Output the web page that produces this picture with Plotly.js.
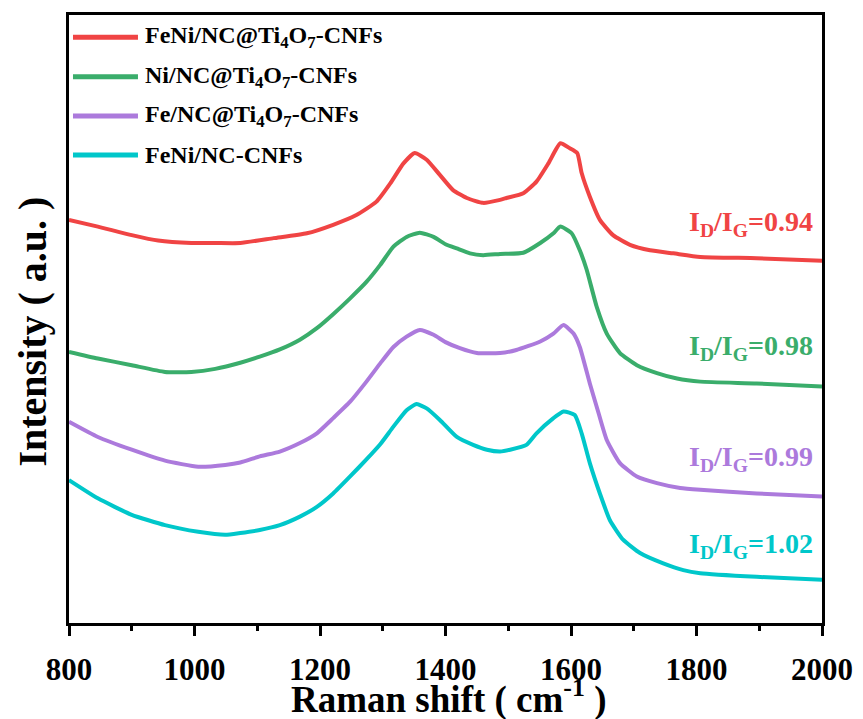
<!DOCTYPE html>
<html>
<head>
<meta charset="utf-8">
<script src="https://cdn.plot.ly/plotly-3.0.1.min.js"></script>
<style>
  html, body { margin: 0; padding: 0; background: #ffffff; }
  #chart { width: 863px; height: 719px; }
</style>
</head>
<body>
<div id="chart"></div>
<script>
// Raman spectra (intensity offset per sample, arbitrary units)
const seriesNames = [
  'FeNi/NC@Ti<sub>4</sub>O<sub>7</sub>-CNFs',
  'Ni/NC@Ti<sub>4</sub>O<sub>7</sub>-CNFs',
  'Fe/NC@Ti<sub>4</sub>O<sub>7</sub>-CNFs',
  'FeNi/NC-CNFs'
];
const seriesColors = ['#F04444', '#3AAD6B', '#AC7ADC', '#00C7CA'];
const ratioValues = ['0.94', '0.98', '0.99', '1.02'];

const shiftFeNiTi = [800, 846, 900, 942, 995, 1033, 1073, 1126, 1179, 1221, 1258, 1290, 1312, 1333, 1351, 1370, 1391, 1412, 1434, 1460, 1487, 1497, 1524, 1545, 1564, 1583, 1598, 1610, 1617, 1630, 1646, 1667, 1694, 1726, 1763, 1806, 1896, 2000];
const intensityFeNiTi = [66.3, 65.2, 63.8, 62.9, 62.5, 62.5, 62.5, 63.3, 64.1, 65.5, 67.1, 69.3, 72.3, 75.6, 77.3, 76.2, 73.7, 71.2, 69.9, 69.1, 69.6, 69.9, 70.7, 72.6, 75.6, 78.9, 78.1, 77.3, 74.0, 70.1, 66.3, 63.8, 62.2, 61.3, 60.8, 60.2, 60.0, 59.6];

const shiftNiTi = [800, 846, 900, 953, 995, 1033, 1073, 1104, 1136, 1168, 1195, 1221, 1248, 1274, 1296, 1317, 1338, 1359, 1381, 1400, 1418, 1439, 1460, 1487, 1524, 1551, 1572, 1583, 1601, 1614, 1625, 1641, 1657, 1678, 1705, 1737, 1769, 1806, 1896, 2000];
const intensityNiTi = [44.6, 43.5, 42.4, 41.3, 41.3, 41.8, 42.8, 43.8, 45.0, 46.6, 48.5, 50.8, 53.4, 56.1, 58.9, 61.9, 63.5, 64.2, 63.5, 62.3, 61.6, 60.8, 60.5, 60.7, 60.9, 62.5, 64.1, 65.2, 64.1, 61.3, 58.1, 52.0, 47.6, 44.4, 42.4, 41.1, 40.2, 39.7, 39.4, 38.9];

const shiftFeTi = [800, 846, 900, 953, 1006, 1049, 1073, 1104, 1136, 1168, 1195, 1221, 1248, 1274, 1296, 1317, 1338, 1359, 1381, 1400, 1423, 1450, 1487, 1513, 1551, 1572, 1588, 1604, 1614, 1630, 1644, 1657, 1678, 1705, 1737, 1774, 1806, 1896, 2000];
const intensityFeTi = [33.1, 30.6, 28.5, 26.7, 25.7, 26.0, 26.4, 27.4, 28.2, 29.6, 31.2, 33.7, 36.4, 39.7, 42.7, 45.4, 47.1, 48.2, 47.4, 46.2, 45.2, 44.4, 44.4, 44.9, 46.3, 47.6, 49.0, 47.6, 45.4, 39.4, 34.5, 30.1, 26.3, 24.1, 23.0, 22.2, 21.9, 21.3, 20.8];

const shiftFeNi = [800, 846, 900, 953, 1006, 1049, 1073, 1104, 1136, 1168, 1195, 1221, 1248, 1274, 1296, 1317, 1338, 1354, 1370, 1391, 1418, 1444, 1466, 1487, 1503, 1529, 1545, 1572, 1588, 1606, 1617, 1630, 1646, 1662, 1683, 1710, 1747, 1779, 1806, 1896, 2000];
const intensityFeNi = [23.5, 20.5, 17.8, 16.1, 15.0, 14.5, 14.8, 15.3, 16.1, 17.5, 19.1, 21.3, 24.1, 26.9, 29.4, 32.3, 35.0, 36.0, 35.3, 33.4, 30.6, 29.3, 28.5, 28.2, 28.5, 29.3, 31.2, 33.7, 34.8, 34.2, 31.2, 26.3, 21.3, 16.9, 13.7, 11.5, 9.8, 8.7, 8.2, 7.6, 7.1];

const xTickValues = [800, 1000, 1200, 1400, 1600, 1800, 2000];
const xTitle = 'Raman shift ( cm<sup>-1</sup> )';
const yTitle = 'Intensity ( a.u. )';

const shifts = [shiftFeNiTi, shiftNiTi, shiftFeTi, shiftFeNi];
const intensities = [intensityFeNiTi, intensityNiTi, intensityFeTi, intensityFeNi];

const serif = 'Times New Roman, Liberation Serif, serif';

const traces = shifts.map((xs, i) => ({
  type: 'scatter',
  mode: 'lines',
  x: xs,
  y: intensities[i],
  name: seriesNames[i],
  line: { color: seriesColors[i], width: 4, shape: 'spline', smoothing: 0.5 },
  showlegend: false
}));

// hand-placed legend: coloured line sample + label per sample
const legendRowsY = [0.9633, 0.8985, 0.8339, 0.7697];
const shapes = legendRowsY.map((y, i) => ({
  type: 'line', xref: 'paper', yref: 'paper',
  x0: 0.0053, x1: 0.0916, y0: y, y1: y,
  line: { color: seriesColors[i], width: 5 }
}));

const annotations = legendRowsY.map((y, i) => ({
  xref: 'paper', yref: 'paper', x: 0.0983, y: y,
  xanchor: 'left', yanchor: 'middle', showarrow: false,
  text: seriesNames[i],
  font: { family: serif, size: 24, weight: 700, color: '#000000' }
}));

// I_D/I_G labels at the right end of each spectrum
const ratioY = [0.657, 0.453, 0.270, 0.127];
ratioValues.forEach((v, i) => {
  annotations.push({
    xref: 'paper', yref: 'paper', x: 0.9907, y: ratioY[i],
    xanchor: 'right', yanchor: 'middle', showarrow: false,
    text: 'I<sub>D</sub>/I<sub>G</sub>=' + v,
    font: { family: serif, size: 28, weight: 700, color: seriesColors[i] }
  });
});

// axis titles
annotations.push({
  xref: 'paper', yref: 'paper', x: 0.505, y: -0.122,
  xanchor: 'center', yanchor: 'middle', showarrow: false,
  text: xTitle,
  font: { family: serif, size: 37, weight: 700, color: '#000000' }
});
annotations.push({
  xref: 'paper', yref: 'paper', x: -0.048, y: 0.479,
  xanchor: 'center', yanchor: 'middle', showarrow: false, textangle: -90,
  text: yTitle,
  font: { family: serif, size: 40, weight: 700, color: '#000000' }
});

const layout = {
  width: 863,
  height: 719,
  margin: { l: 69, r: 41, t: 15, b: 96 },
  paper_bgcolor: '#ffffff',
  plot_bgcolor: '#ffffff',
  font: { family: serif, color: '#000000' },
  xaxis: {
    range: [800, 2000],
    tickvals: xTickValues,
    ticktext: xTickValues.map(String),
    ticks: 'outside',
    ticklen: 10,
    tickwidth: 3,
    tickcolor: '#000000',
    minor: { dtick: 100, tick0: 800, ticks: 'outside', ticklen: 5, tickwidth: 3, tickcolor: '#000000' },
    showline: true, linecolor: '#000000', linewidth: 3, mirror: true,
    showgrid: false, zeroline: false,
    tickfont: { family: serif, size: 31, weight: 700, color: '#000000' },
    ticklabelstandoff: 7
  },
  yaxis: {
    range: [0, 100],
    showticklabels: false,
    ticks: '',
    showline: true, linecolor: '#000000', linewidth: 3, mirror: true,
    showgrid: false, zeroline: false
  },
  shapes: shapes,
  annotations: annotations,
  showlegend: false
};

Plotly.newPlot('chart', traces, layout, { staticPlot: true, displayModeBar: false });
</script>
</body>
</html>
